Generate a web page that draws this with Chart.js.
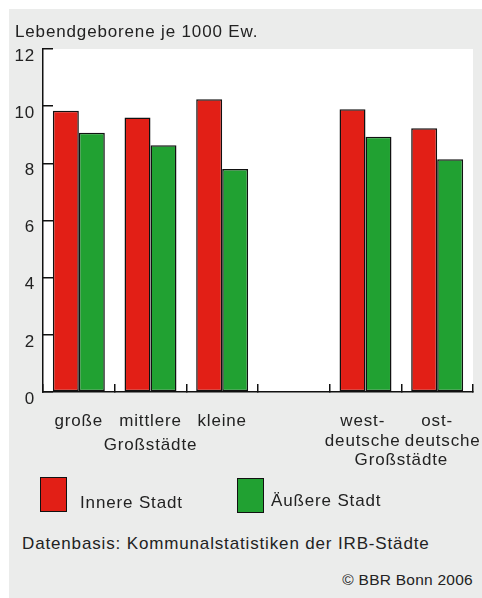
<!DOCTYPE html>
<html>
<head>
<meta charset="utf-8">
<script src="https://cdn.jsdelivr.net/npm/chart.js@4/dist/chart.umd.min.js"></script>
<style>
  html, body { margin: 0; padding: 0; background: #fff; }
  body { width: 482px; height: 598px; position: relative; overflow: hidden;
         font-family: "Liberation Sans", Arial, sans-serif; color: #222; }
  #panel { position: absolute; left: 9px; top: 9px; width: 473px; height: 589px; background: #ebeceb; }
  #wrap { position: absolute; left: 0; top: 0; width: 482px; height: 480px; }
  .t { position: absolute; font-size: 17px; line-height: 20px; letter-spacing: 0.85px; white-space: nowrap; }
  .small { font-size: 15.5px; letter-spacing: 0.25px; }
  .box { position: absolute; width: 27px; height: 35px; box-sizing: border-box; border: 1.5px solid #111; }
</style>
</head>
<body>
<div id="panel"></div>
<div id="wrap"><canvas id="c" width="482" height="480"></canvas></div>
<div id="legend"></div>
<div class="t" style="left:22px; top:534px">Datenbasis: Kommunalstatistiken der IRB-Städte</div>
<div class="t small" style="right:9px; top:570px">© BBR Bonn 2006</div>

<script>
// Live births per 1000 inhabitants, inner vs. outer city
const categories = [['große'], ['mittlere'], ['kleine'], '', ['west- ', 'deutsche '], ['ost-', '  deutsche']];
const innerCity = [9.84, 9.60, 10.24, null, 9.89, 9.23];
const outerCity = [9.07, 8.63, 7.80, null, 8.93, 8.14];
const seriesNames = ['Innere Stadt', 'Äußere Stadt'];
const seriesColors = ['#e21f16', '#21a132'];
const yTicks = [0, 2, 4, 6, 8, 10, 12];
const groupTitle = 'Großstädte';
const groupSpans = [[0, 2], [4, 5]];
const chartTitle = 'Lebendgeborene je 1000 Ew.';

const FONT = '"Liberation Sans", Arial, sans-serif';
const INK = '#222';
const AXIS = '#111';

// legend built from the series arrays
const legendPos = [{ bx: 40, by: 477, tx: 80, ty: 493 }, { bx: 237, by: 478, tx: 271, ty: 491 }];
const legend = document.getElementById('legend');
seriesNames.forEach((name, i) => {
  const b = document.createElement('div');
  b.className = 'box';
  b.style.left = legendPos[i].bx + 'px';
  b.style.top = legendPos[i].by + 'px';
  b.style.background = seriesColors[i];
  legend.appendChild(b);
  const t = document.createElement('div');
  t.className = 't';
  t.style.left = legendPos[i].tx + 'px';
  t.style.top = legendPos[i].ty + 'px';
  t.textContent = name;
  legend.appendChild(t);
});

const plotBackground = {
  id: 'plotBackground',
  beforeDraw(chart) {
    const { ctx, chartArea: a } = chart;
    ctx.fillStyle = '#fff';
    ctx.fillRect(a.left, a.top, a.right - a.left, a.bottom - a.top);
    if ('letterSpacing' in ctx) ctx.letterSpacing = '0.85px';
  }
};

// shared caption under a run of categories
const groupCaptions = {
  id: 'groupCaptions',
  afterDraw(chart) {
    const { ctx, chartArea: a } = chart;
    const x = chart.scales.x;
    const baselines = [a.bottom + 58, a.bottom + 73];
    ctx.save();
    ctx.font = '17px ' + FONT;
    ctx.fillStyle = INK;
    ctx.textAlign = 'center';
    ctx.textBaseline = 'alphabetic';
    groupSpans.forEach(([from, to], i) => {
      const cx = (x.getPixelForValue(from) + x.getPixelForValue(to)) / 2;
      ctx.fillText(groupTitle, cx, baselines[i]);
    });
    ctx.restore();
  }
};

new Chart(document.getElementById('c'), {
  type: 'bar',
  data: {
    labels: categories,
    datasets: [
      { label: seriesNames[0], data: innerCity, backgroundColor: seriesColors[0] },
      { label: seriesNames[1], data: outerCity, backgroundColor: seriesColors[1] }
    ].map(d => Object.assign(d, {
      borderColor: AXIS, borderWidth: 1.5, borderSkipped: false,
      categoryPercentage: 0.725, barPercentage: 1.0
    }))
  },
  options: {
    responsive: false,
    animation: false,
    devicePixelRatio: 1,
    layout: { padding: { left: 15, right: 9, top: 0, bottom: 0 } },
    plugins: {
      legend: { display: false },
      tooltip: { enabled: false },
      title: {
        display: true, text: chartTitle, align: 'start', color: INK,
        font: { family: FONT, size: 17, weight: 'normal', lineHeight: 1.2 },
        padding: { top: 22, bottom: 6.6 }
      }
    },
    scales: {
      x: {
        grid: { offset: true, drawOnChartArea: false, drawTicks: true, tickLength: -8, color: AXIS, lineWidth: 1.5 },
        border: { display: true, color: AXIS, width: 1.5 },
        ticks: { padding: 27, color: INK, autoSkip: false, maxRotation: 0,
                 font: { family: FONT, size: 17, lineHeight: '20px' } },
        afterFit(s) { s.height = 88; s.paddingLeft = 0; s.paddingRight = 0; }
      },
      y: {
        min: yTicks[0], max: yTicks[yTicks.length - 1],
        afterBuildTicks(s) { s.ticks = yTicks.map(v => ({ value: v })); },
        grid: { drawOnChartArea: false, drawTicks: true, tickLength: -10, color: AXIS, lineWidth: 1.5 },
        border: { display: true, color: AXIS, width: 1.5 },
        ticks: { padding: 18, labelOffset: 7, color: INK, font: { family: FONT, size: 17 } },
        afterFit(s) { s.width = 28; s.paddingTop = 0; s.paddingBottom = 0; }
      }
    }
  },
  plugins: [plotBackground, groupCaptions]
});
</script>
</body>
</html>
